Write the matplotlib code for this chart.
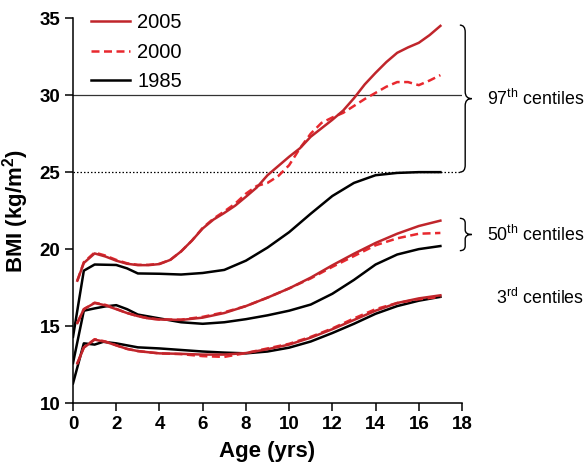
import matplotlib
matplotlib.use("Agg")
import matplotlib.pyplot as plt
from matplotlib.path import Path
from matplotlib.patches import PathPatch
from matplotlib.lines import Line2D

plt.rcParams['font.family'] = ['Liberation Sans', 'DejaVu Sans']
plt.rcParams['mathtext.fontset'] = 'custom'
plt.rcParams['mathtext.rm'] = 'Liberation Sans'
plt.rcParams['mathtext.bf'] = 'Liberation Sans:bold'

# ---------------- data ----------------
years = ["2005", "2000", "1985"]

age_p97_2005 = [0.2, 0.5, 1, 1.5, 2, 2.5, 3, 3.5, 4, 4.5, 5, 5.5, 6, 6.5, 7, 7.5, 8, 8.5, 9, 9.5,
                10, 10.5, 11, 11.5, 12, 12.5, 13, 13.5, 14, 14.5, 15, 15.5, 16, 16.5, 17]
p97_2005 = [17.95, 19.1, 19.72, 19.52, 19.25, 19.05, 18.96, 18.96, 19.03, 19.3, 19.85, 20.55, 21.34,
            21.92, 22.35, 22.82, 23.4, 24.0, 24.8, 25.4, 26.0, 26.55, 27.3, 27.85, 28.4, 29.0, 29.8,
            30.7, 31.45, 32.15, 32.75, 33.1, 33.4, 33.9, 34.5]

age_p97_2000 = [0.2, 0.5, 1, 1.5, 2, 2.5, 3, 3.5, 4, 4.5, 5, 5.5, 6, 6.5, 7, 7.5, 8, 8.5, 9, 9.5,
                10, 10.5, 11, 11.5, 12, 12.5, 13, 13.5, 14, 14.5, 15, 15.5, 16, 16.5, 17]
p97_2000 = [17.95, 19.15, 19.78, 19.58, 19.3, 19.08, 18.98, 18.98, 19.05, 19.3, 19.85, 20.55, 21.38,
            21.98, 22.45, 22.95, 23.6, 24.1, 24.3, 24.75, 25.45, 26.55, 27.5, 28.2, 28.55, 28.85,
            29.3, 29.75, 30.15, 30.55, 30.85, 30.85, 30.65, 30.95, 31.3]

age_p97_1985 = [0, 0.5, 1, 2, 2.5, 3, 4, 5, 6, 7, 8, 9, 10, 11, 12, 13, 14, 15, 16, 17]
p97_1985 = [14.3, 18.6, 19.0, 18.97, 18.75, 18.42, 18.4, 18.35, 18.45, 18.65, 19.25, 20.1, 21.1,
            22.3, 23.45, 24.3, 24.8, 24.95, 25.0, 25.0]

age_p50_2005 = [0.2, 0.5, 1, 1.5, 2, 2.5, 3, 3.5, 4, 5, 6, 7, 8, 9, 10, 11, 12, 13, 14, 15, 16, 17]
p50_2005 = [15.2, 16.1, 16.5, 16.35, 16.1, 15.85, 15.65, 15.5, 15.43, 15.4, 15.55, 15.85, 16.3, 16.85,
            17.45, 18.15, 18.95, 19.7, 20.4, 21.0, 21.5, 21.85]

age_p50_2000 = [0.2, 0.5, 1, 1.5, 2, 2.5, 3, 3.5, 4, 5, 6, 7, 8, 9, 10, 11, 12, 13, 14, 15, 16, 17]
p50_2000 = [15.2, 16.1, 16.52, 16.38, 16.12, 15.85, 15.65, 15.5, 15.43, 15.42, 15.6, 15.9, 16.3, 16.85,
            17.45, 18.1, 18.85, 19.55, 20.25, 20.7, 21.0, 21.05]

age_p50_1985 = [0, 0.5, 1, 1.5, 2, 2.5, 3, 4, 5, 6, 7, 8, 9, 10, 11, 12, 13, 14, 15, 16, 17]
p50_1985 = [12.6, 16.0, 16.15, 16.28, 16.36, 16.1, 15.75, 15.5, 15.25, 15.15, 15.25, 15.45, 15.7, 16.0,
            16.4, 17.1, 18.0, 19.0, 19.65, 20.0, 20.2]

age_p3_2005 = [0.2, 0.5, 1, 1.5, 2, 2.5, 3, 3.5, 4, 5, 6, 7, 8, 9, 10, 11, 12, 13, 14, 15, 16, 17]
p3_2005 = [12.58, 13.6, 14.12, 13.98, 13.75, 13.52, 13.38, 13.3, 13.23, 13.2, 13.15, 13.15, 13.25, 13.5,
           13.8, 14.25, 14.8, 15.4, 16.0, 16.5, 16.8, 17.0]

age_p3_2000 = [0.2, 0.5, 1, 1.5, 2, 2.5, 3, 3.5, 4, 5, 6, 7, 8, 9, 10, 11, 12, 13, 14, 15, 16, 17]
p3_2000 = [12.58, 13.62, 14.15, 14.0, 13.75, 13.52, 13.38, 13.3, 13.23, 13.18, 13.05, 13.0, 13.25, 13.55,
           13.85, 14.3, 14.85, 15.5, 16.1, 16.5, 16.75, 16.9]

age_p3_1985 = [0, 0.5, 1, 1.4, 2, 3, 4, 5, 6, 7, 8, 9, 10, 11, 12, 13, 14, 15, 16, 17]
p3_1985 = [11.28, 13.88, 13.8, 13.98, 13.88, 13.62, 13.55, 13.45, 13.35, 13.28, 13.23, 13.35, 13.6,
           14.0, 14.55, 15.15, 15.8, 16.3, 16.65, 16.9]

ref_obese = 30
ref_over = 25

x_ticks = [0, 2, 4, 6, 8, 10, 12, 14, 16, 18]
y_ticks = [10, 15, 20, 25, 30, 35]

# ---------------- styles ----------------
c2005 = '#c0252b'
c2000 = '#e8282e'
c1985 = '#000000'
lw = 1.8
dash = (0, (3.2, 1.8))

fig = plt.figure(figsize=(5.86, 4.66), dpi=100)
ax = fig.add_axes([0.1246, 0.135, 0.6638, 0.826])

ax.axhline(ref_obese, color='#333333', lw=0.9, zorder=1)
ax.axhline(ref_over, color='#000000', lw=0.9, ls=(0, (1.2, 1.6)), zorder=1)

for a, v in [(age_p97_1985, p97_1985), (age_p50_1985, p50_1985), (age_p3_1985, p3_1985)]:
    ax.plot(a, v, color=c1985, lw=lw, zorder=2)
for a, v in [(age_p97_2000, p97_2000), (age_p50_2000, p50_2000), (age_p3_2000, p3_2000)]:
    ax.plot(a, v, color=c2000, lw=lw, ls=dash, zorder=3)
for a, v in [(age_p97_2005, p97_2005), (age_p50_2005, p50_2005), (age_p3_2005, p3_2005)]:
    ax.plot(a, v, color=c2005, lw=lw, zorder=4)

ax.set_xlim(0, 18)
ax.set_ylim(10, 35)
ax.set_xticks(x_ticks)
ax.set_yticks(y_ticks)
for s in ['top', 'right']:
    ax.spines[s].set_visible(False)
for s in ['left', 'bottom']:
    ax.spines[s].set_linewidth(1.1)
ax.tick_params(direction='out', length=6, width=1.1, labelsize=13.5, pad=3)
for lab in ax.get_xticklabels() + ax.get_yticklabels():
    lab.set_fontweight('bold')

ax.set_xlabel('Age (yrs)', fontsize=16, fontweight='bold', labelpad=6)
ax.set_ylabel(r'BMI (kg/m$^{\mathbf{2}}$)', fontsize=16, fontweight='bold', labelpad=6)

handles = [Line2D([], [], color=c2005, lw=lw),
           Line2D([], [], color=c2000, lw=lw, ls=dash),
           Line2D([], [], color=c1985, lw=lw)]
ax.legend(handles, years, loc='upper left', bbox_to_anchor=(0.0, 1.06), frameon=False,
          fontsize=14.5, handlelength=1.95, handletextpad=0.35, labelspacing=0.52)


def brace(ax, x0, y_bot, y_top, width=0.55, r=0.45):
    xm = x0 + width * 0.45
    x1 = x0 + width
    ymid = (y_bot + y_top) / 2
    verts = [(x0, y_top), (xm, y_top), (xm, y_top - r),
             (xm, ymid + r),
             (xm, ymid), (x1, ymid),
             (xm, ymid), (xm, ymid - r),
             (xm, y_bot + r),
             (xm, y_bot), (x0, y_bot)]
    codes = [Path.MOVETO, Path.CURVE3, Path.CURVE3,
             Path.LINETO,
             Path.CURVE3, Path.CURVE3,
             Path.CURVE3, Path.CURVE3,
             Path.LINETO,
             Path.CURVE3, Path.CURVE3]
    p = PathPatch(Path(verts, codes), fill=False, lw=1.0, color='black', clip_on=False)
    ax.add_patch(p)


brace(ax, 17.9, 25.0, 34.55)
brace(ax, 17.9, 19.9, 22.0, r=0.3)

tx = 23.65
ax.text(tx, 29.75, r'97$^{\mathrm{th}}$ centiles', ha='right', va='center', fontsize=12.8, clip_on=False)
ax.text(tx, 20.9, r'50$^{\mathrm{th}}$ centiles', ha='right', va='center', fontsize=12.8, clip_on=False)
ax.text(tx, 16.8, r'3$^{\mathrm{rd}}$ centiles', ha='right', va='center', fontsize=12.8, clip_on=False)

fig.savefig('out.png', dpi=100)
